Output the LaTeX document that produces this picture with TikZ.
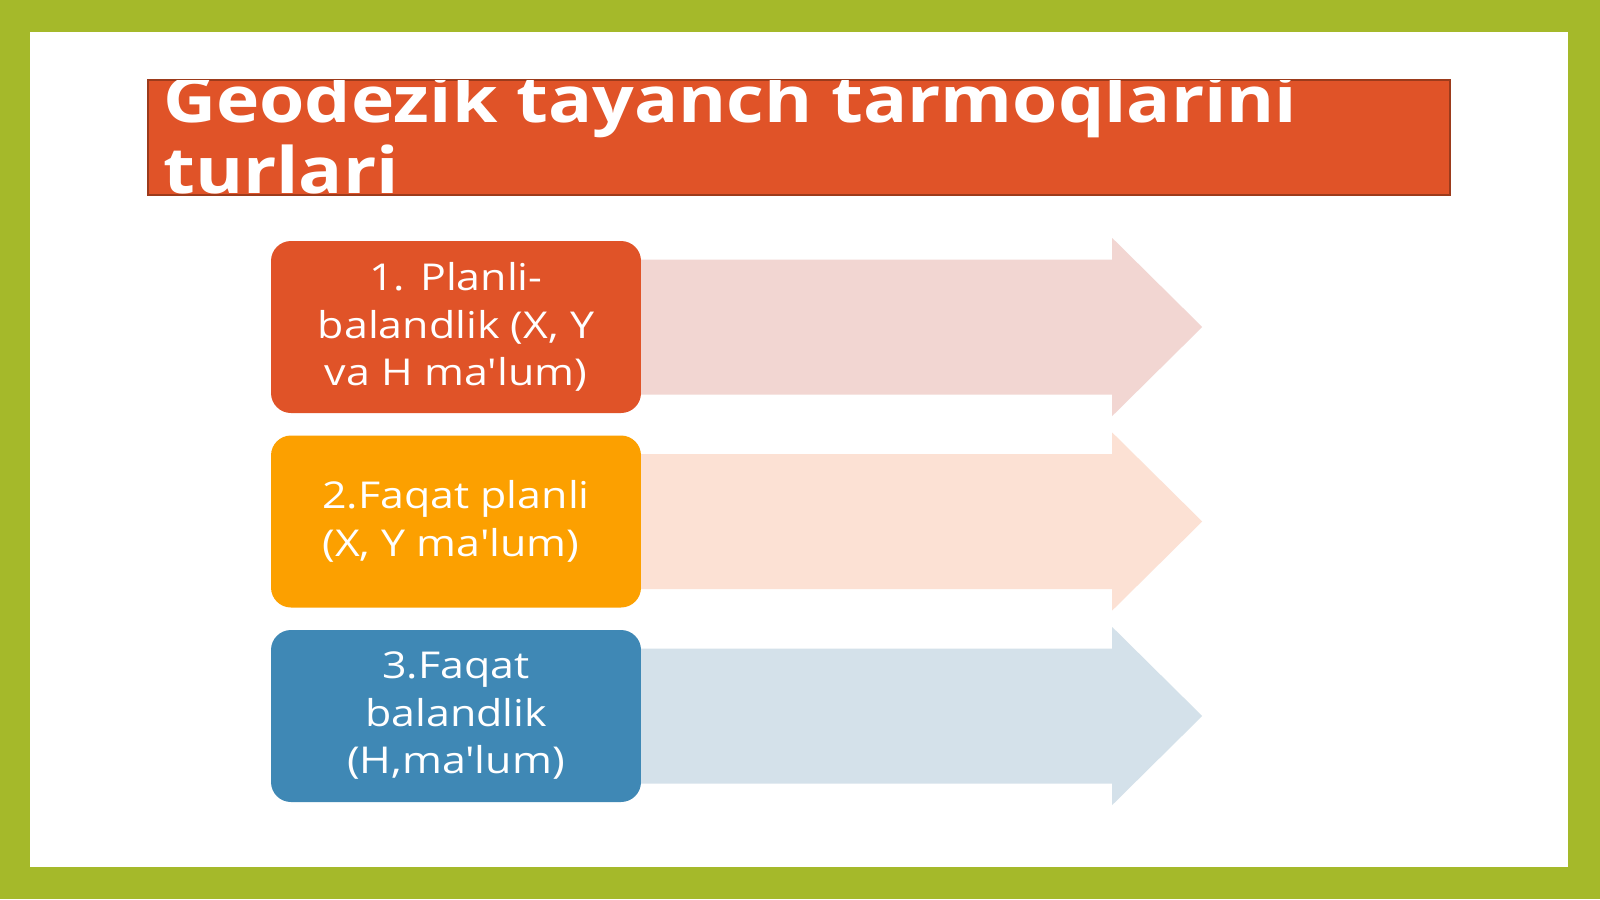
\documentclass[tikz,border=0pt]{standalone}
\usepackage{fontspec}
\setmainfont{Open Sans}[Ligatures=TeXOff]
\newfontfamily\boxfont{Open Sans}[Ligatures=TeXOff, FakeStretch=1.16]
\newfontfamily\titlefont{Open Sans}[Ligatures=TeXOff, FakeStretch=1.145]
\usetikzlibrary{calc}
\definecolor{frameGreen}{HTML}{A5B92A}
\definecolor{titleRed}{HTML}{E05328}
\definecolor{titleEdge}{HTML}{9C3B1C}
\definecolor{boxRed}{HTML}{E05328}
\definecolor{boxAmber}{HTML}{FCA000}
\definecolor{boxBlue}{HTML}{3F88B5}
\definecolor{arrRed}{HTML}{F2D6D2}
\definecolor{arrAmber}{HTML}{FCE1D4}
\definecolor{arrBlue}{HTML}{D4E1EA}
\tikzset{
  itembox/.style={rounded corners=20pt, minimum width=370pt, minimum height=172pt,
    inner sep=0pt, align=center, text=white, font=\boxfont\fontsize{37}{47.5}\selectfont},
  titletext/.style={anchor=base west, inner sep=0pt, text=white,
    font=\titlefont\bfseries\fontsize{64}{71}\selectfont},
}
\begin{document}
\begin{tikzpicture}[x=1pt,y=-1pt]
\useasboundingbox (0,0) rectangle (1600,899);
\fill[frameGreen] (0,0) rectangle (1600,899);
\fill[white] (30,32) rectangle (1568,867);
% title bar
\filldraw[fill=titleRed, draw=titleEdge, line width=1.5pt] (148,80) rectangle (1450,195);
\begin{scope}
  \clip (148,80) rectangle (1450,195);
  \node[titletext] (title1) at (163,122) {Geodezik tayanch tarmoqlarini};
  \node[titletext] (title2) at (163,193) {turlari};
\end{scope}
% boxes
\node[itembox, fill=boxRed] (b1) at (456,327) {1. Planli-\\balandlik (X, Y\\va H ma'lum)};
\node[itembox, fill=boxAmber] (b2) at (456,521.5) {2.Faqat planli\\(X, Y ma'lum)\hspace*{10pt}\mbox{}};
\node[itembox, fill=boxBlue] (b3) at (456,716) {3.Faqat\\balandlik\\(H,ma'lum)};
% arrows
\fill[arrRed] (b1.east) ++(0,-67.5) -- ++(471,0) -- ++(0,-21.5) -- ++(90,89) -- ++(-90,89) -- ++(0,-21.5) -- ++(-471,0) -- cycle;
\fill[arrAmber] (b2.east) ++(0,-67.5) -- ++(471,0) -- ++(0,-21.5) -- ++(90,89) -- ++(-90,89) -- ++(0,-21.5) -- ++(-471,0) -- cycle;
\fill[arrBlue] (b3.east) ++(0,-67.5) -- ++(471,0) -- ++(0,-21.5) -- ++(90,89) -- ++(-90,89) -- ++(0,-21.5) -- ++(-471,0) -- cycle;
\end{tikzpicture}
\end{document}
